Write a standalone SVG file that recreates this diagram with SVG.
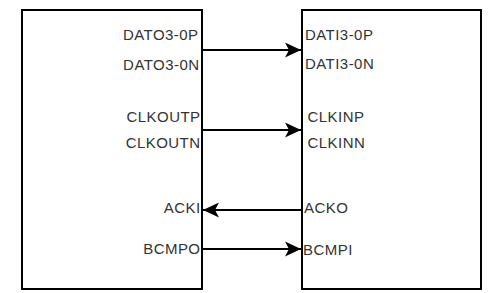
<svg xmlns="http://www.w3.org/2000/svg" width="498" height="293" viewBox="0 0 498 293">
<style>
.box{fill:#fff;stroke:#000;stroke-width:2}
.wire{fill:none;stroke:#000;stroke-width:2}
text{font-family:"Liberation Sans",Arial,sans-serif;font-size:15px;letter-spacing:0.45px;fill:#333}
.r{text-anchor:end}
</style>
<defs>
<marker id="arr" markerUnits="userSpaceOnUse" markerWidth="20" markerHeight="20" refX="16" refY="8" orient="auto">
<path d="M16,8 L0,0.5 L4,8 L0,15.5 Z" fill="#000"/>
</marker>
</defs>
<rect width="498" height="293" fill="#fff"/>
<g id="tx">
<rect class="box" x="22" y="10" width="180" height="279"/>
<text class="r" x="198.5" y="40">DATO3-0P</text>
<text class="r" x="199.5" y="69.5">DATO3-0N</text>
<text class="r" x="200.5" y="121.5">CLKOUTP</text>
<text class="r" x="200.5" y="148">CLKOUTN</text>
<text class="r" x="200.5" y="213">ACKI</text>
<text class="r" x="200.5" y="254">BCMPO</text>
</g>
<g id="rx">
<rect class="box" x="302" y="10" width="179" height="279"/>
<text x="305" y="40">DATI3-0P</text>
<text x="305" y="68.5">DATI3-0N</text>
<text x="307.5" y="121.5">CLKINP</text>
<text x="307.5" y="148">CLKINN</text>
<text x="304" y="213">ACKO</text>
<text x="303" y="255">BCMPI</text>
</g>
<g id="connectors">
<path class="wire" d="M202,50 H301" marker-end="url(#arr)"/>
<path class="wire" d="M202,130 H301" marker-end="url(#arr)"/>
<path class="wire" d="M302,210 H203" marker-end="url(#arr)"/>
<path class="wire" d="M202,249 H301" marker-end="url(#arr)"/>
</g>
</svg>
